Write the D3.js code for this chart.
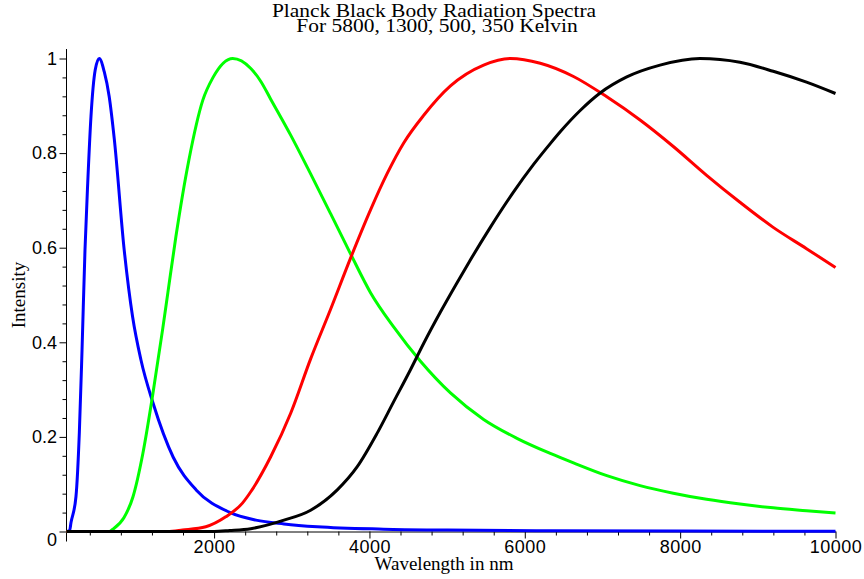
<!DOCTYPE html>
<html>
<head>
<meta charset="utf-8">
<script src="https://cdn.jsdelivr.net/npm/d3@7"></script>
<style>
  body { margin: 0; background: #fff; }
  .tick text { font-family: "Liberation Sans", Arial, sans-serif; font-size: 18px; }
  .lbl { font-family: "Liberation Serif", "Times New Roman", serif; fill: #000; }
</style>
</head>
<body>
<div id="chart"></div>
<script>
// values: [wavelength nm, normalised intensity]
var temps = [5800, 1300, 500, 350];
var colors = ["#0000ff", "#00ff00", "#ff0000", "#000000"];

var blue5800 = [[100,0],[140,0.002],[158,0.019],[222,0.074],[265,0.208],[300,0.384],[338,0.595],[373,0.736],
  [415,0.877],[470,0.976],[522,1.0],[586,0.972],[650,0.919],[715,0.83],[843,0.595],[951,0.454],[1058,0.363],
  [1217,0.27],[1474,0.157],[1769,0.088],[2193,0.041],[2539,0.024],[2900,0.016],[3329,0.010],[4181,0.005],
  [5000,0.003],[6328,0.0015],[8000,0.0008],[10000,0.0004]];

var green1300 = [[100,0],[650,0],[698,0.005],[839,0.029],[955,0.073],[1083,0.165],[1211,0.29],[1340,0.43],
  [1405,0.505],[1508,0.623],[1675,0.785],[1855,0.912],[1983,0.959],[2240,1.0],[2473,0.979],[2600,0.952],
  [2729,0.914],[2986,0.838],[3243,0.756],[3500,0.672],[3757,0.587],[4014,0.505],[4314,0.432],[4657,0.36],
  [5043,0.293],[5470,0.237],[5899,0.197],[6328,0.165],[6627,0.145],[7056,0.118],[7484,0.097],[7912,0.081],
  [8341,0.068],[8770,0.058],[9198,0.05],[9627,0.044],[10000,0.039]];

var red500 = [[100,0],[1400,0],[1594,0.003],[1893,0.01],[2150,0.031],[2365,0.06],[2472,0.084],[2729,0.158],
  [2986,0.25],[3243,0.365],[3500,0.47],[3757,0.578],[4014,0.68],[4229,0.757],[4443,0.822],[4699,0.88],
  [5043,0.942],[5470,0.986],[5813,1.0],[6199,0.99],[6627,0.962],[7056,0.919],[7484,0.87],[7912,0.814],
  [8341,0.753],[8770,0.696],[9198,0.643],[9627,0.598],[10000,0.558]];

var black350 = [[100,0],[2000,0],[2200,0.002],[2472,0.006],[2900,0.024],[3243,0.045],[3586,0.088],[3843,0.137],
  [4100,0.208],[4314,0.275],[4528,0.342],[4699,0.398],[4914,0.464],[5128,0.526],[5299,0.574],[5556,0.643],
  [5856,0.718],[6113,0.776],[6328,0.82],[6456,0.845],[6713,0.89],[6970,0.927],[7313,0.961],[7741,0.986],
  [8255,1.0],[8770,0.992],[9198,0.973],[9627,0.95],[10000,0.926]];

var series = [blue5800, green1300, red500, black350];

var xMajor = [2000, 4000, 6000, 8000, 10000];
var xMinor = [400,800,1200,1600,2400,2800,3200,3600,4400,4800,5200,5600,6400,6800,7200,7600,8400,8800,9200,9600];
var yMajor = [0, 0.2, 0.4, 0.6, 0.8, 1];
var yMinor = [0.04,0.08,0.12,0.16,0.24,0.28,0.32,0.36,0.44,0.48,0.52,0.56,0.64,0.68,0.72,0.76,0.84,0.88,0.92,0.96];

var width = 864, height = 579;

var svg = d3.select("#chart").append("svg")
  .attr("width", width)
  .attr("height", height);

var x = d3.scaleLinear().domain([100, 10000]).range([66.5, 835.5]);
var y = d3.scaleLinear().domain([0, 1]).range([531.5, 58.5]);

// x axis, ticks pointing down
svg.append("g")
  .attr("transform", "translate(0," + y(0) + ")")
  .call(d3.axisBottom(x).tickValues(xMinor).tickSize(4).tickSizeOuter(0).tickFormat(""))
  .select(".domain").remove();
svg.append("g")
  .attr("transform", "translate(0," + y(0) + ")")
  .call(d3.axisBottom(x).tickValues(xMajor).tickSize(7).tickSizeOuter(0).tickPadding(1.5).tickFormat(d3.format("d")))
  .selectAll(".tick text").attr("letter-spacing", "0.5px");

// y axis, ticks pointing left; the line runs a little past both ends
svg.append("g")
  .attr("transform", "translate(" + x(100) + ",0)")
  .call(d3.axisLeft(y).tickValues(yMinor).tickSize(4).tickFormat(""))
  .select(".domain").remove();
var yg = svg.append("g")
  .attr("transform", "translate(" + x(100) + ",0)")
  .call(d3.axisLeft(y).tickValues(yMajor).tickSize(7).tickPadding(2.5).tickFormat(function(d) { return String(d); }));
yg.select(".domain").remove();
yg.selectAll(".tick text").filter(function(d) { return d === 0; }).attr("dy", "0.75em");
svg.append("line")
  .attr("x1", x(100)).attr("x2", x(100))
  .attr("y1", y(1) - 9.5).attr("y2", y(0) + 10)
  .attr("stroke", "#000");

// curves - smoothed between the read points
var line = d3.line()
  .curve(d3.curveMonotoneX)
  .x(function(d) { return x(d[0]); })
  .y(function(d) { return y(d[1]); });

svg.selectAll("path.curve")
  .data(series)
  .enter()
  .append("path")
    .attr("class", "curve")
    .attr("d", line)
    .attr("fill", "none")
    .attr("stroke", function(d, i) { return colors[i]; })
    .attr("stroke-width", 3)
    .attr("stroke-linejoin", "round");

// titles and labels (the two title lines sit tight together as in the original)
svg.append("text").attr("class", "lbl")
  .attr("transform", "translate(434,17) scale(1.13,1)")
  .attr("text-anchor", "middle").attr("font-size", 19)
  .text("Planck Black Body Radiation Spectra");
svg.append("text").attr("class", "lbl")
  .attr("transform", "translate(437,32) scale(1.13,1)")
  .attr("text-anchor", "middle").attr("font-size", 19)
  .text("For " + temps.join(", ") + " Kelvin");

svg.append("text").attr("class", "lbl")
  .attr("transform", "translate(25,295) rotate(-90)")
  .attr("text-anchor", "middle").attr("font-size", 19)
  .text("Intensity");

svg.append("text").attr("class", "lbl")
  .attr("x", 444).attr("y", 570)
  .attr("text-anchor", "middle").attr("font-size", 19)
  .text("Wavelength in nm");
</script>
</body>
</html>
